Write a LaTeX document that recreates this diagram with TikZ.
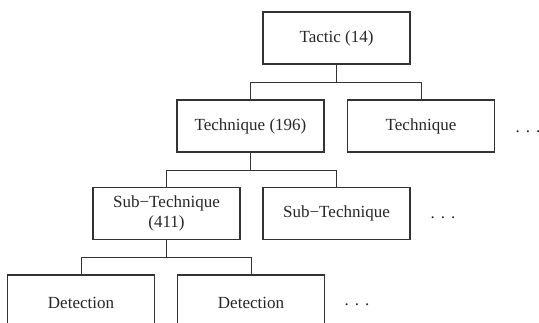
\documentclass[tikz,border=0pt]{standalone}
\usepackage{fontspec}
\setmainfont{Liberation Serif}
\begin{document}
\begin{tikzpicture}[x=1pt,y=-1pt,
  box/.style={draw=black!80,line width=1.2pt,minimum width=147pt,minimum height=52pt,inner sep=0pt,
    font=\fontsize{17}{20}\selectfont,text=black!85,align=center},
  link/.style={draw=black!80,line width=0.9pt},
  more/.style={font=\fontsize{17}{20}\selectfont,text=black!85,inner sep=0pt}]
\useasboundingbox (0,0) rectangle (539,323);
\clip (0,0) rectangle (539,323);
\node[box] (tac) at (336.5,38) {Tactic (14)};
\node[box] (t1) at (250.5,126) {Technique (196)};
\node[box] (t2) at (421,126) {Technique};
\node[more] (d1) at (528,132) {.\hspace{6pt}.\hspace{6pt}.};
\node[box] (s1) at (166.5,213.5) {Sub−Technique\\(411)};
\node[box] (s2) at (336.5,213.5) {Sub−Technique};
\node[more] (d2) at (443,218) {.\hspace{6pt}.\hspace{6pt}.};
\node[box,minimum height=56pt] (e1) at (81,303) {Detection};
\node[box,minimum height=56pt] (e2) at (251,303) {Detection};
\node[more] (d3) at (357,305) {.\hspace{6pt}.\hspace{6pt}.};
\draw[link] (tac.south) -- ++(0,18) -| (t1.north);
\draw[link] (tac.south) -- ++(0,18) -| (t2.north);
\draw[link] (t1.south) -- ++(0,18) -| (s1.north);
\draw[link] (t1.south) -- ++(0,18) -| (s2.north);
\draw[link] (s1.south) -- ++(0,17) -| (e1.north);
\draw[link] (s1.south) -- ++(0,17) -| (e2.north);
\end{tikzpicture}
\end{document}
